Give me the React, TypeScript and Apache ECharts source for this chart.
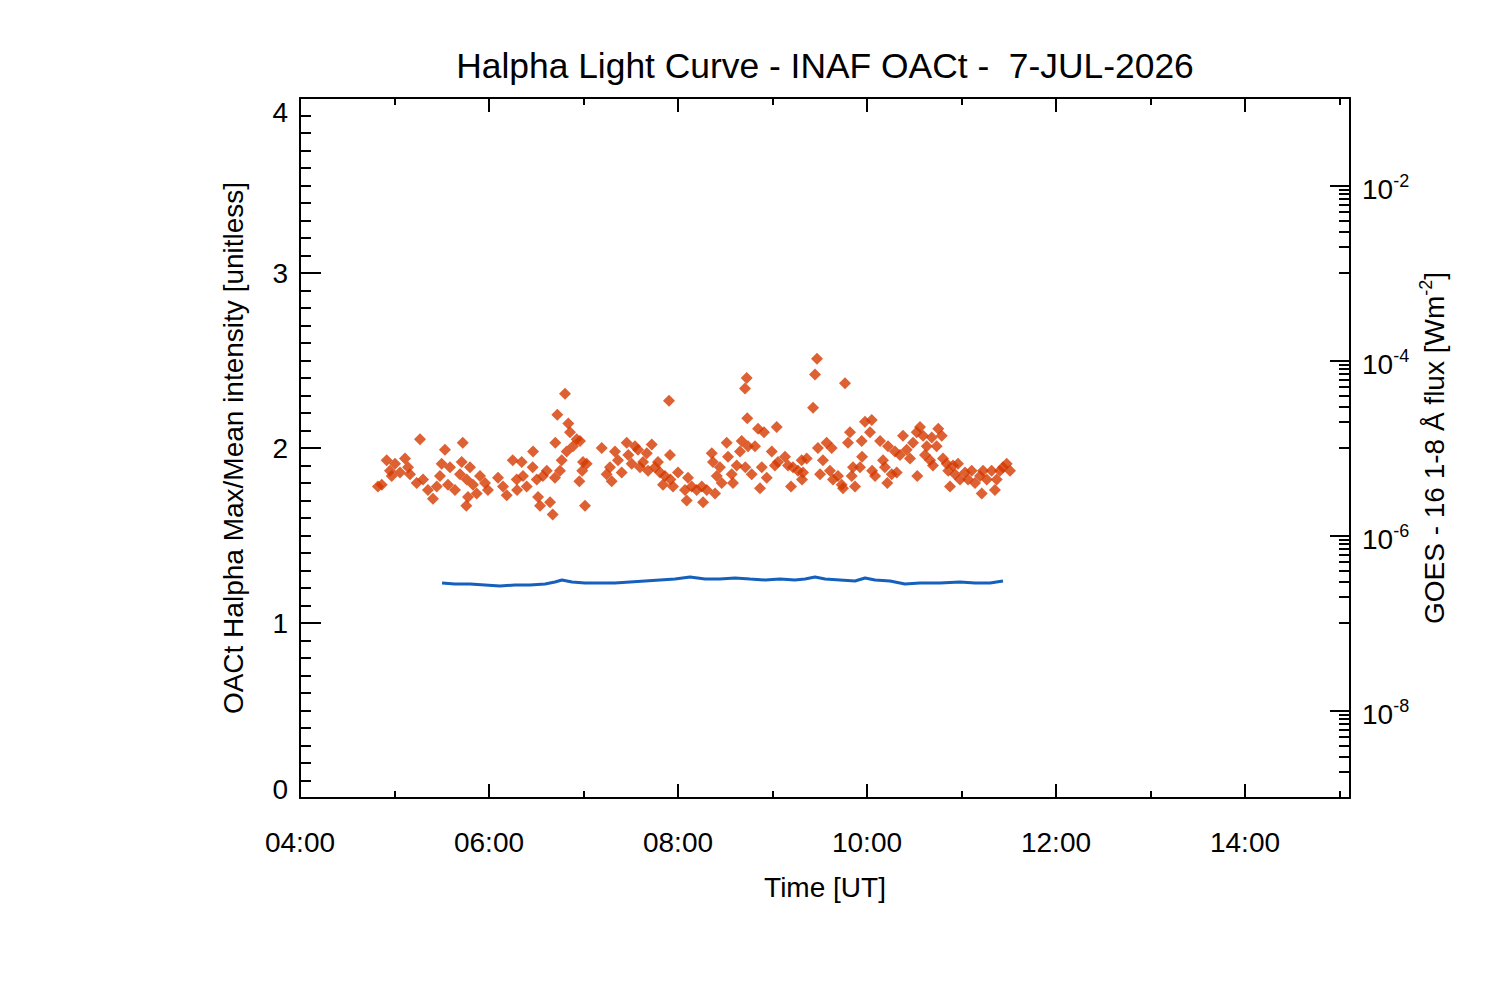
import React, { useEffect, useRef } from "react";
import * as echarts from "echarts";

const FONT = "'Liberation Sans', Arial, Helvetica, sans-serif";
const TITLE = "Halpha Light Curve - INAF OACt -  7-JUL-2026";
const X_NAME = "Time [UT]";
const Y_LEFT_NAME = "OACt Halpha Max/Mean intensity [unitless]";

// x axis in decimal hours UT
const X_MIN = 4;
const X_MAX = 15.111;
const xMajorTicks = [4, 6, 8, 10, 12, 14];
const xMinorTicks = [5, 7, 9, 11, 13, 15];

const yLeftMin = 0;
const yLeftMax = 4;

const yRightMin = 1e-9;
const yRightMax = 1e-1;
const yRightMajor = [1e-8, 1e-6, 1e-4, 1e-2];
const yRightMinor = [
  1e-9, 2e-9, 3e-9, 4e-9, 5e-9, 6e-9, 7e-9, 8e-9, 9e-9,
  1e-7, 2e-7, 3e-7, 4e-7, 5e-7, 6e-7, 7e-7, 8e-7, 9e-7,
  1e-5, 2e-5, 3e-5, 4e-5, 5e-5, 6e-5, 7e-5, 8e-5, 9e-5,
  1e-3, 2e-3, 3e-3, 4e-3, 5e-3, 6e-3, 7e-3, 8e-3, 9e-3,
];

// Halpha Max/Mean intensity (red diamonds)
const redTime = [
  4.825, 4.865, 4.917, 4.952, 4.97, 5.005, 5.058, 5.111, 5.143, 5.164,
  5.235, 5.27, 5.302, 5.354, 5.407, 5.447, 5.481, 5.499, 5.534, 5.566,
  5.587, 5.64, 5.693, 5.711, 5.722, 5.764, 5.76, 5.778, 5.799, 5.831,
  5.87, 5.905, 5.958, 5.989, 6.095, 6.148, 6.187, 6.251, 6.293, 6.297,
  6.346, 6.36, 6.399, 6.462, 6.466, 6.505, 6.519, 6.54, 6.571, 6.611,
  6.646, 6.674, 6.698, 6.702, 6.723, 6.751, 6.769, 6.804, 6.822, 6.839,
  6.857, 6.889, 6.928, 6.956, 6.963, 6.987, 6.995, 7.016, 7.034, 7.193,
  7.245, 7.28, 7.298, 7.333, 7.365, 7.404, 7.457, 7.474, 7.51, 7.545,
  7.577, 7.598, 7.63, 7.669, 7.683, 7.722, 7.757, 7.788, 7.81, 7.841,
  7.862, 7.905, 7.915, 7.92, 7.947, 8.0, 8.074, 8.092, 8.106, 8.145,
  8.198, 8.251, 8.265, 8.304, 8.357, 8.37, 8.392, 8.41, 8.444, 8.462,
  8.515, 8.529, 8.568, 8.582, 8.621, 8.656, 8.674, 8.709, 8.712, 8.727,
  8.733, 8.741, 8.78, 8.815, 8.847, 8.868, 8.886, 8.91, 8.939, 8.992,
  9.026, 9.044, 9.058, 9.132, 9.164, 9.196, 9.217, 9.27, 9.309, 9.312,
  9.323, 9.362, 9.429, 9.45, 9.471, 9.481, 9.503, 9.534, 9.573, 9.608,
  9.626, 9.64, 9.693, 9.732, 9.746, 9.767, 9.799, 9.82, 9.838, 9.852,
  9.873, 9.926, 9.944, 9.948, 9.979, 10.032, 10.05, 10.054, 10.085, 10.138,
  10.169, 10.19, 10.215, 10.222, 10.261, 10.296, 10.314, 10.349, 10.381, 10.42,
  10.455, 10.487, 10.526, 10.532, 10.561, 10.593, 10.614, 10.632, 10.667, 10.685,
  10.698, 10.737, 10.754, 10.791, 10.804, 10.843, 10.86, 10.878, 10.91, 10.931,
  10.963, 10.984, 11.037, 11.069, 11.108, 11.143, 11.196, 11.214, 11.228, 11.267,
  11.319, 11.354, 11.372, 11.407, 11.439, 11.478, 11.513,
];
const redValue = [
  1.78, 1.79, 1.93, 1.87, 1.84, 1.91, 1.86, 1.94, 1.89, 1.85,
  1.8, 2.05, 1.82, 1.76, 1.71, 1.78, 1.84, 1.91, 1.99, 1.79,
  1.89, 1.76, 1.85, 1.92, 2.03, 1.82, 1.67, 1.72, 1.89, 1.79,
  1.74, 1.84, 1.8, 1.76, 1.83, 1.78, 1.73, 1.93, 1.82, 1.76,
  1.92, 1.84, 1.78, 1.89, 1.98, 1.82, 1.72, 1.67, 1.84, 1.87,
  1.69, 1.62, 1.83, 2.03, 2.19, 1.87, 1.93, 2.31, 1.98, 2.14,
  2.09, 2.01, 2.05, 1.81, 2.04, 1.87, 1.92, 1.67, 1.91, 2.0,
  1.85, 1.89, 1.81, 1.98, 1.93, 1.86, 2.03, 1.96, 1.91, 2.01,
  1.99, 1.89, 1.92, 1.97, 1.87, 2.02, 1.89, 1.92, 1.86, 1.79,
  1.84, 2.27, 1.96, 1.82, 1.78, 1.86, 1.76, 1.7, 1.83, 1.78,
  1.76, 1.78, 1.69, 1.76, 1.97, 1.92, 1.74, 1.84, 1.89, 1.8,
  2.03, 1.95, 1.85, 1.8, 1.9, 1.98, 2.04, 2.34, 1.89, 2.4,
  2.17, 2.01, 1.85, 2.01, 2.11, 1.77, 1.89, 2.09, 1.83, 1.98,
  1.9, 2.12, 1.92, 1.95, 1.9, 1.78, 1.89, 1.87, 1.93, 1.82,
  1.86, 1.94, 2.23, 2.42, 2.51, 2.0, 1.85, 1.93, 2.03, 1.87,
  2.0, 1.82, 1.84, 1.79, 1.77, 2.37, 2.03, 2.09, 1.84, 1.89,
  1.78, 1.89, 2.04, 1.95, 2.15, 2.09, 2.16, 1.87, 1.84, 2.04,
  1.93, 1.89, 1.8, 2.01, 1.85, 1.98, 1.86, 1.96, 2.07, 1.99,
  1.94, 2.03, 2.09, 1.84, 2.12, 2.07, 1.96, 2.01, 1.93, 2.06,
  1.9, 2.01, 2.11, 2.07, 1.94, 1.91, 1.87, 1.78, 1.9, 1.85,
  1.91, 1.82, 1.86, 1.82, 1.87, 1.8, 1.84, 1.74, 1.87, 1.82,
  1.87, 1.76, 1.82, 1.87, 1.89, 1.91, 1.87,
];

// GOES-16 1-8 A flux (blue line), W m^-2
const goesTime = [
  5.503, 5.64, 5.799, 5.958, 6.116, 6.275, 6.434, 6.593, 6.698, 6.772,
  6.878, 7.016, 7.175, 7.333, 7.492, 7.651, 7.81, 7.968, 8.127, 8.286,
  8.444, 8.603, 8.762, 8.921, 9.079, 9.238, 9.344, 9.45, 9.556, 9.714,
  9.873, 9.979, 10.085, 10.243, 10.402, 10.561, 10.772, 10.984, 11.143, 11.302,
  11.439,
];
const goesFlux = [
  2.86e-7, 2.79e-7, 2.79e-7, 2.72e-7, 2.65e-7, 2.72e-7, 2.72e-7, 2.79e-7, 2.94e-7, 3.1e-7,
  2.94e-7, 2.86e-7, 2.86e-7, 2.86e-7, 2.94e-7, 3.02e-7, 3.1e-7, 3.18e-7, 3.36e-7, 3.18e-7,
  3.18e-7, 3.27e-7, 3.18e-7, 3.1e-7, 3.18e-7, 3.1e-7, 3.18e-7, 3.36e-7, 3.18e-7, 3.1e-7,
  3.02e-7, 3.27e-7, 3.1e-7, 3.02e-7, 2.79e-7, 2.86e-7, 2.86e-7, 2.94e-7, 2.86e-7, 2.86e-7,
  3.02e-7,
];

const BLACK = "#000";
const tickLine = { color: BLACK, width: 2 };

function hourLabel(v: number) {
  const h = Math.round(v);
  return (h < 10 ? "0" : "") + h + ":00";
}

function expLabel(v: number) {
  const e = Math.round(Math.log10(v));
  return "{b|10}{s|" + e + "}";
}

function leftLabel(v: number) {
  if (v === yLeftMin) return "{lo|" + v + "}";
  return String(v);
}

const labelRich = {
  b: { fontSize: 28, lineHeight: 28, fontFamily: FONT, color: BLACK, padding: [7, 0, 0, 0] },
  s: { fontSize: 18, lineHeight: 18, fontFamily: FONT, color: BLACK, verticalAlign: "top" },
};

export default function App() {
  const ref = useRef<HTMLDivElement>(null);

  useEffect(() => {
    document.body.style.margin = "0";
    if (!ref.current) return;
    const chart = echarts.init(ref.current, null, { renderer: "svg" });

    const redData = redTime.map((t, i) => [t, redValue[i]]);
    const goesData = goesTime.map((t, i) => [t, goesFlux[i]]);

    const baseX = {
      type: "value",
      min: X_MIN,
      max: X_MAX,
      splitLine: { show: false },
      axisPointer: { show: false },
    };

    const option: any = {
      animation: false,
      backgroundColor: "#fff",
      grid: { left: 300, top: 98, width: 1050, height: 700 },
      graphic: [
        {
          type: "text",
          x: 825,
          y: 66,
          style: {
            text: TITLE,
            fontSize: 35.4,
            fontFamily: FONT,
            fill: BLACK,
            textAlign: "center",
            textVerticalAlign: "middle",
          },
        },
      ],
      xAxis: [
        {
          ...baseX,
          position: "bottom",
          axisLine: { show: true, onZero: false, lineStyle: tickLine },
          axisTick: { show: true, inside: true, length: 14, lineStyle: tickLine, customValues: xMajorTicks },
          axisLabel: {
            customValues: xMajorTicks,
            formatter: hourLabel,
            fontSize: 28,
            fontFamily: FONT,
            color: BLACK,
            margin: 30,
          },
          name: X_NAME,
          nameLocation: "middle",
          nameGap: 75,
          nameMoveOverlap: false,
          nameTextStyle: { fontSize: 28, fontFamily: FONT, color: BLACK },
        },
        {
          ...baseX,
          position: "bottom",
          axisLine: { show: false },
          axisTick: { show: true, inside: true, length: 7, lineStyle: tickLine, customValues: xMinorTicks },
          axisLabel: { show: false },
        },
        {
          ...baseX,
          position: "top",
          axisLine: { show: true, onZero: false, lineStyle: tickLine },
          axisTick: { show: true, inside: true, length: 14, lineStyle: tickLine, customValues: xMajorTicks },
          axisLabel: { show: false },
        },
        {
          ...baseX,
          position: "top",
          axisLine: { show: false },
          axisTick: { show: true, inside: true, length: 7, lineStyle: tickLine, customValues: xMinorTicks },
          axisLabel: { show: false },
        },
      ],
      yAxis: [
        {
          type: "value",
          position: "left",
          min: yLeftMin,
          max: yLeftMax,
          interval: 1,
          axisLine: { show: true, onZero: false, lineStyle: tickLine },
          axisTick: { show: true, inside: true, length: 21, lineStyle: tickLine },
          minorTick: { show: true, splitNumber: 10, length: 11, lineStyle: tickLine },
          splitLine: { show: false },
          minorSplitLine: { show: false },
          axisLabel: {
            fontSize: 28,
            fontFamily: FONT,
            color: BLACK,
            margin: 12,
            formatter: leftLabel,
            verticalAlignMaxLabel: "top",
            rich: {
              lo: { fontSize: 28, lineHeight: 28, fontFamily: FONT, color: BLACK, padding: [0, 0, 18, 0] },
            },
          },
          name: Y_LEFT_NAME,
          nameLocation: "middle",
          nameRotate: 90,
          nameGap: 53,
          nameMoveOverlap: false,
          nameTextStyle: { fontSize: 28, fontFamily: FONT, color: BLACK },
        },
        {
          type: "log",
          logBase: 10,
          position: "right",
          min: yRightMin,
          max: yRightMax,
          axisLine: { show: true, onZero: false, lineStyle: tickLine },
          axisTick: { show: true, inside: true, length: 20, lineStyle: tickLine, customValues: yRightMajor },
          splitLine: { show: false },
          axisLabel: {
            customValues: yRightMajor,
            formatter: expLabel,
            margin: 12,
            rich: labelRich,
          },
          name: "{n|GOES - 16 1-8 Å flux [Wm}{s|-2}{n|]}",
          nameLocation: "middle",
          nameRotate: 90,
          nameGap: 67,
          nameMoveOverlap: false,
          nameTextStyle: {
            rich: {
              n: { fontSize: 28, lineHeight: 28, fontFamily: FONT, color: BLACK, padding: [7, 0, 0, 0] },
              s: { fontSize: 18, lineHeight: 18, fontFamily: FONT, color: BLACK, verticalAlign: "top" },
            },
          },
        },
        {
          type: "log",
          logBase: 10,
          position: "right",
          min: yRightMin,
          max: yRightMax,
          axisLine: { show: false },
          axisTick: { show: true, inside: true, length: 11, lineStyle: tickLine, customValues: yRightMinor },
          splitLine: { show: false },
          axisLabel: { show: false },
        },
      ],
      series: [
        {
          type: "line",
          xAxisIndex: 0,
          yAxisIndex: 1,
          data: goesData,
          showSymbol: false,
          symbol: "none",
          lineStyle: { color: "#1560bd", width: 3 },
          z: 2,
        },
        {
          type: "scatter",
          xAxisIndex: 0,
          yAxisIndex: 0,
          data: redData,
          symbol: "diamond",
          symbolSize: 12,
          itemStyle: { color: "#d43a00" },
          z: 3,
        },
      ],
    };

    chart.setOption(option);
    return () => {
      chart.dispose();
    };
  }, []);

  return <div ref={ref} style={{ width: 1500, height: 1000 }} />;
}
